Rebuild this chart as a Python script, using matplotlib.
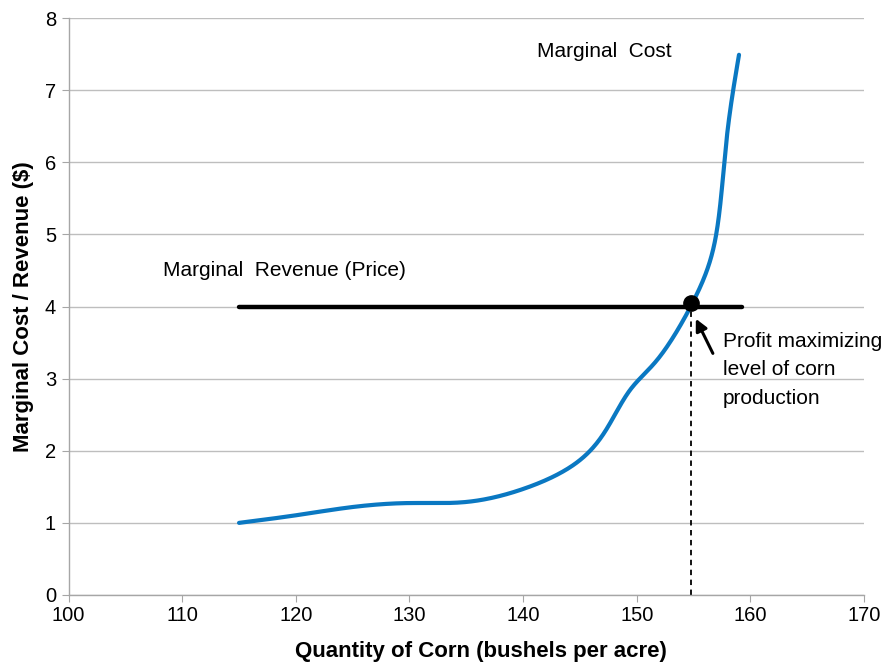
import numpy as np
import matplotlib
matplotlib.use("Agg")
import matplotlib.pyplot as plt

# ---- data ----
mc_x = [115, 120, 125, 130, 135, 140, 144.4, 147.1, 149.4, 151.8,
        155.1, 156.9, 157.9, 159.0]
mc_y = [1.0, 1.105, 1.22, 1.275, 1.29, 1.47, 1.80, 2.24, 2.84, 3.26,
        4.11, 4.92, 6.31, 7.49]
mr_x = [115, 159.3]
mr_y = [4, 4]
opt_x = 154.8
opt_y = 4.05
x_ticks = [100, 110, 120, 130, 140, 150, 160, 170]
y_ticks = [0, 1, 2, 3, 4, 5, 6, 7, 8]

plt.rcParams['font.family'] = ['Liberation Sans', 'DejaVu Sans']

fig = plt.figure(figsize=(8.82, 6.63), dpi=100)
ax = fig.add_axes([68.6 / 882, 1 - 595 / 663, (864 - 68.6) / 882, (595 - 18) / 663])
ax.set_xlim(100, 170)
ax.set_ylim(0, 8)


def natural_spline_1d(t, v, tt):
    n = len(t)
    h = np.diff(t)
    A = np.zeros((n, n))
    b = np.zeros(n)
    A[0, 0] = 1
    A[-1, -1] = 1
    for i in range(1, n - 1):
        A[i, i - 1] = h[i - 1]
        A[i, i] = 2 * (h[i - 1] + h[i])
        A[i, i + 1] = h[i]
        b[i] = 3 * ((v[i + 1] - v[i]) / h[i] - (v[i] - v[i - 1]) / h[i - 1])
    c = np.linalg.solve(A, b)
    idx = np.clip(np.searchsorted(t, tt, side='right') - 1, 0, n - 2)
    hi = h[idx]
    bi = (v[idx + 1] - v[idx]) / hi - hi * (2 * c[idx] + c[idx + 1]) / 3
    di = (c[idx + 1] - c[idx]) / (3 * hi)
    dx = tt - t[idx]
    return v[idx] + bi * dx + c[idx] * dx ** 2 + di * dx ** 3


def smooth_curve(xs, ys, n=600):
    """Smooth rendering through the given points (like Excel's smoothed line)."""
    pts = ax.transData.transform(np.column_stack([xs, ys]))
    seg = np.sqrt(np.linalg.norm(np.diff(pts, axis=0), axis=1))
    t = np.concatenate([[0], np.cumsum(seg)])
    tt = np.linspace(0, t[-1], n)
    px = natural_spline_1d(t, pts[:, 0], tt)
    py = natural_spline_1d(t, pts[:, 1], tt)
    d = ax.transData.inverted().transform(np.column_stack([px, py]))
    return d[:, 0], d[:, 1]


grid_c = '#BEBEBE'
ax.set_yticks(y_ticks)
ax.set_xticks(x_ticks)
ax.yaxis.grid(True, color=grid_c, linewidth=1.0)
ax.set_axisbelow(True)
for s in ['top', 'right']:
    ax.spines[s].set_visible(False)
for s in ['left', 'bottom']:
    ax.spines[s].set_color('#A6A6A6')
    ax.spines[s].set_linewidth(1.0)
ax.tick_params(axis='both', direction='out', length=5, color='#A6A6A6',
               labelsize=14.5, labelcolor='black')
ax.tick_params(axis='x', pad=3)
ax.tick_params(axis='y', pad=4)

sx, sy = smooth_curve(mc_x, mc_y)
ax.plot(sx, sy, color='#0A78C2', linewidth=3.0, solid_capstyle='round', zorder=3)
ax.plot(mr_x, mr_y, color='black', linewidth=3.2, solid_capstyle='round', zorder=4)
ax.plot([opt_x, opt_x], [0, opt_y], color='black', linewidth=1.3,
        linestyle=(0, (3, 2.5)), zorder=2)
ax.plot([opt_x], [opt_y], 'o', color='black', markersize=11, zorder=5)

fs = 15
ax.text(141.2, 7.53, 'Marginal  Cost', fontsize=fs, va='center', ha='left')
ax.text(108.3, 4.5, 'Marginal  Revenue (Price)', fontsize=fs, va='center', ha='left')
ax.text(157.6, 3.52, 'Profit maximizing', fontsize=fs, va='center', ha='left', clip_on=False)
ax.text(157.6, 3.13, 'level of corn', fontsize=fs, va='center', ha='left')
ax.text(157.6, 2.73, 'production', fontsize=fs, va='center', ha='left')
ax.annotate('', xy=(155.2, 3.83), xytext=(156.7, 3.35),
            arrowprops=dict(arrowstyle='-|>,head_length=0.7,head_width=0.35',
                            color='black', lw=2.2, shrinkA=0, shrinkB=0))

ax.set_xlabel('Quantity of Corn (bushels per acre)', fontsize=16, fontweight='bold')
ax.xaxis.set_label_coords((481 - 68.6) / 795.4, -(651 - 595) / 577, transform=ax.transAxes)
ax.xaxis.label.set_va('center')
ax.set_ylabel('Marginal Cost / Revenue ($)', fontsize=16, fontweight='bold', labelpad=8)

fig.savefig('out.png', dpi=100)
